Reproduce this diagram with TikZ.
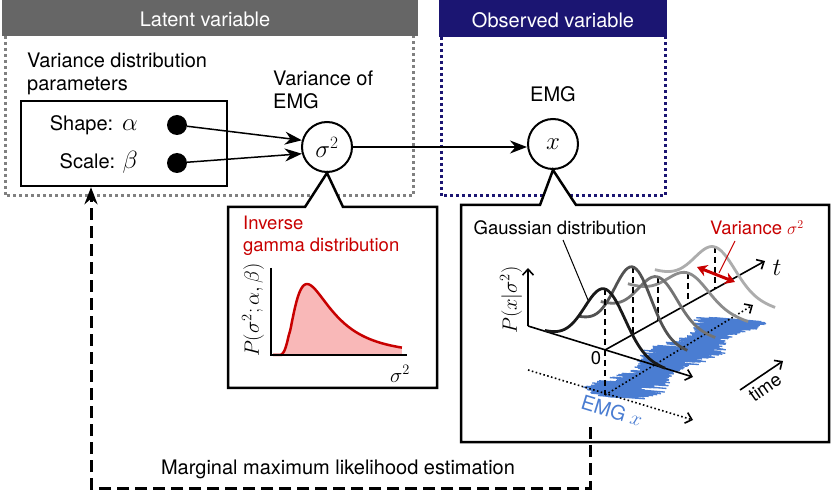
\documentclass[tikz,border=0pt]{standalone}
\usepackage{fontspec}
\setmainfont{TeX Gyre Heros}
\usepackage{tikz}
\usetikzlibrary{arrows.meta}
\definecolor{latentgray}{HTML}{666666}
\definecolor{dotgray}{HTML}{808080}
\definecolor{obsblue}{HTML}{1B1572}
\definecolor{igred}{HTML}{C80000}
\definecolor{igfill}{HTML}{F9B8B8}
\definecolor{emgblue}{HTML}{4A7DD2}
\tikzset{
  txt/.style={font=\fontsize{20}{23}\selectfont, inner sep=0pt},
  smalltxt/.style={font=\fontsize{18.5}{22}\selectfont, inner sep=0pt},
  mathtxt/.style={font=\fontsize{21}{21}\selectfont, inner sep=0pt},
  varnode/.style={circle, draw, line width=2pt, minimum size=50pt, inner sep=0pt, fill=white, font=\fontsize{25}{25}\selectfont},
  bigarrow/.style={-{Stealth[length=17pt,width=13pt]}, line width=1.5pt},
  axis/.style={-{Straight Barb[length=6pt,width=11pt]}, line width=1.6pt},
  callout/.style={line width=2.5pt, fill=white, line join=miter},
}

\begin{document}
\begin{tikzpicture}[x=1pt,y=-1pt]
\useasboundingbox (0,0) rectangle (831,497);
% latent and observed frames
\fill[latentgray] (2,0) rectangle (418,36);
\node[txt, text=white] (latenttitle) at (205,19) {Latent variable};
\draw[dotgray, line width=3pt, dash pattern=on 3pt off 3pt] (5,36) -- (5,196) -- (413,196) -- (413,36);
\fill[obsblue] (439,0) rectangle (667,37);
\node[txt, text=white] (obstitle) at (553,20) {Observed variable};
\draw[obsblue, line width=3pt, dash pattern=on 3pt off 3pt] (441,37) -- (441,196) -- (665,196) -- (665,37);

% parameters
\node[txt, align=left, anchor=north west] (paramtitle) at (27,53) {Variance distribution\\parameters};
\node[draw, line width=2.5pt, minimum width=206pt, minimum height=85pt, inner sep=0pt] (params) at (124,143.5) {};
\node[txt, anchor=east] (shape) at (138,125) {Shape:\ \,{\fontsize{23}{23}\selectfont$\alpha$}};
\node[txt, anchor=east] (scale) at (138,162) {Scale: {\fontsize{23}{23}\selectfont$\beta$}};
\node[circle, fill, inner sep=0pt, minimum size=20pt] (adot) at (177,125) {};
\node[circle, fill, inner sep=0pt, minimum size=20pt] (bdot) at (177,163) {};

% variables
\node[txt, align=left, anchor=north west] (s2title) at (273,71) {Variance of\\EMG};
\node[varnode] (s2) at (327,147) {$\sigma^2$};
\node[txt] (xtitle) at (553,94) {EMG};
\node[varnode] (x) at (553,144) {$x$};
\draw[bigarrow] (adot) -- (s2.165);
\draw[bigarrow] (bdot) -- (s2.195);
\draw[bigarrow] (s2.east) -- (s2.east -| x.west);

% inverse gamma callout
\draw[callout] (228,207) -- (305,207) -- (s2.south) -- (343,207) -- (437,207) -- (437,388) -- (228,388) -- cycle;
\node[smalltxt, text=igred, align=left, anchor=north west] (igtitle) at (243,216) {Inverse\\gamma distribution};
\fill[igfill] (271,355) -- (281,355) -- plot[domain=0.07:0.91, samples=80, smooth] ({271+144*\x},{355-15.14*exp(-1/\x-4*ln(\x))}) -- (402,355) -- cycle;
\draw[igred, line width=2.5pt] (273,355) -- (281,355) -- plot[domain=0.07:0.91, samples=80, smooth] ({271+144*\x},{355-15.14*exp(-1/\x-4*ln(\x))});
\draw[line width=1.6pt] (271,268) -- (271,355) -- (407,355);
\node[mathtxt, rotate=90] (igylabel) at (253,310) {$P(\sigma^2;\alpha,\beta)$};
\node[mathtxt] (igxlabel) at (400,374) {$\sigma^2$};

% gaussian callout
\draw[callout] (461,205) -- (540,205) -- (x.south) -- (576,205) -- (829,205) -- (829,442) -- (461,442) -- cycle;
\pgfmathsetseed{7}
\draw[emgblue, line width=1.3pt] (612,397) foreach \i [evaluate=\i as \r using {rand*(31+9*sin(\i*1.0))}] in {1,...,800} { -- ({612+0.155*\i+\r},{397-0.097*\i+0.08*\r}) };
\coordinate (origin) at (528,326);
\draw[axis] (origin) -- (528,268);
\draw[axis] (origin) -- (693,377);
\draw[axis] (605,350) -- (765,261);
\draw[axis, dash pattern=on 1.6pt off 2.4pt] (528,370) -- (693,420);
\draw[axis, dash pattern=on 1.6pt off 2.4pt] (605,395) -- (753,305);
\draw[line width=1.6pt, dash pattern=on 6pt off 4pt] (605,350) -- (605,395);
\foreach \cx/\cy/\h/\s/\shade in {715/289/42/21/black!32, 688/303/30/21/black!45, 658/320/43/20/black!55, 633/334/67/19/black!68, 605/350/61/21/black!90}{
  \draw[line width=1.6pt, dash pattern=on 6pt off 4pt] (\cx,\cy-\h) -- (\cx,\cy);
  \draw[\shade, line width=2.8pt] plot[domain=-3:3, samples=50, smooth, variable=\u] ({\cx+0.954*\s*\u},{\cy+0.3*\s*\u-\h*exp(-0.5*(\u)*(\u))});
}
\node[smalltxt] (zero) at (596,358) {0};
\node[font=\fontsize{27}{27}\selectfont, inner sep=0pt] (tlabel) at (777,268) {$t$};
\node[mathtxt, rotate=90] (pxlabel) at (511,300) {$P(x|\sigma^2)$};
\node[smalltxt] (gausslabel) at (560,228) {Gaussian distribution};
\draw[line width=1pt] (563,240) -- (588,300);
\node[smalltxt, text=igred] (varlabel) at (757,228) {Variance $\sigma^2$};
\draw[igred, line width=1pt] (735,241) -- (719,273);
\draw[igred, line width=3pt, {Stealth[length=10pt,width=12pt]}-{Stealth[length=10pt,width=12pt]}] (697,267) -- (735,282);
\draw[axis] (740,390) -- (783,361);
\node[smalltxt, rotate=35, anchor=north] (timelabel) at (761,382) {time};
\node[txt, text=emgblue, rotate=-17] (emglabel) at (612,411) {EMG {\fontsize{22}{22}\selectfont$x$}};

% estimation loop
\coordinate (fbstart) at (590,427);
\coordinate (fbcorner) at (91,488);
\draw[line width=3pt, dash pattern=on 12pt off 6pt, -{Stealth[length=17pt,width=13pt]}] (fbstart) -- (fbstart |- fbcorner) -- (fbcorner) -- (fbcorner |- params.south);
\node[txt] (mmle) at (338,469) {Marginal maximum likelihood estimation};
\end{tikzpicture}
\end{document}
